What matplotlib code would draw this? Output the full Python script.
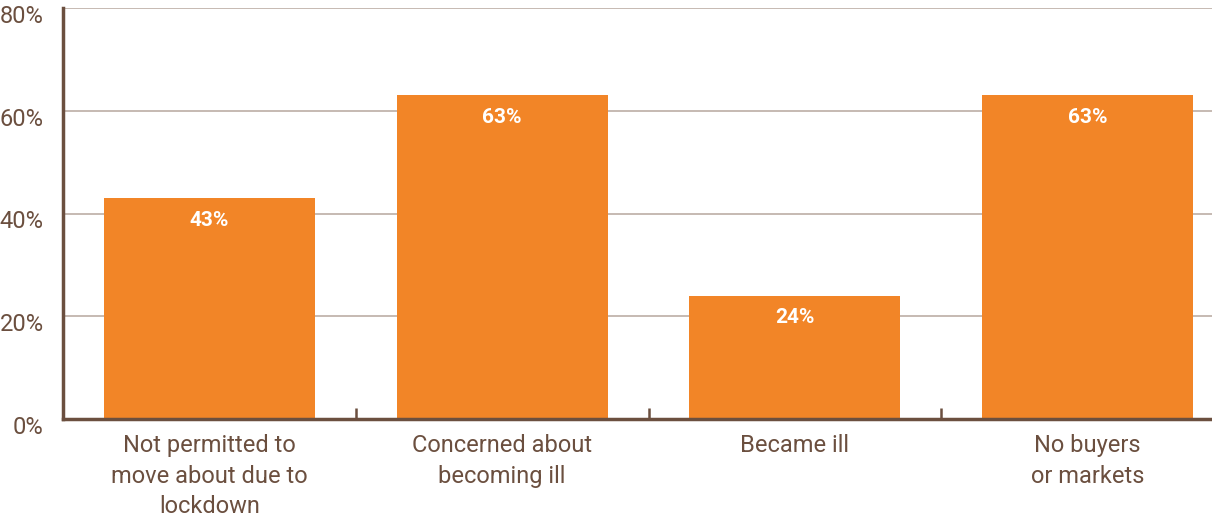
import matplotlib
matplotlib.use("Agg")
import matplotlib.pyplot as plt
import matplotlib.transforms as mtrans
from matplotlib.ticker import FixedLocator, FuncFormatter

# data
categories = ["Not permitted to\nmove about due to\nlockdown",
              "Concerned about\nbecoming ill",
              "Became ill",
              "No buyers\nor markets"]
shares = [43, 63, 24, 63]
yticks = [0, 20, 40, 60, 80]

orange = "#F28527"
brown = "#6B4F3F"
grid_col = "#C2B4AC"

plt.rcParams['font.family'] = ['Roboto', 'DejaVu Sans']

W, H = 1212, 518
fig = plt.figure(figsize=(W / 100, H / 100), dpi=100)
# axes runs a little past the right edge of the picture, as in the original
left, right, top, bottom = 63, 1234, 8, 419
ax = fig.add_axes([left / W, 1 - bottom / H, (right - left) / W, (bottom - top) / H])

x = range(len(categories))
bars = ax.bar(x, shares, width=0.72, color=orange, zorder=3)
for b, v in zip(bars, shares):
    ax.annotate("%d%%" % v, (b.get_x() + b.get_width() / 2, v),
                xytext=(0, -22), textcoords="offset pixels",
                ha="center", va="center", color="white", fontsize=15, fontweight="bold",
                zorder=4)

ax.set_xlim(-0.5, 3.5)
ax.set_ylim(0, 80)
ax.yaxis.set_major_locator(FixedLocator(yticks))
ax.yaxis.set_major_formatter(FuncFormatter(lambda v, p: "%d%%" % v))
ax.grid(axis="y", color=grid_col, linewidth=1.3, zorder=0)
ax.set_axisbelow(True)

ax.set_xticks(list(x))
ax.set_xticklabels(categories, fontsize=17, color=brown, linespacing=1.42)
ax.xaxis.set_minor_locator(FixedLocator([0.5, 1.5, 2.5]))
ax.tick_params(axis="x", which="major", length=0, pad=11)
ax.tick_params(axis="x", which="minor", direction="in", length=8, width=1.8, color=brown)
ax.tick_params(axis="y", length=0, pad=14, labelsize=17, labelcolor=brown)

# y labels sit a few pixels below their gridlines in the original
shift = mtrans.ScaledTranslation(0, -6 / 100, fig.dpi_scale_trans)
for lab in ax.get_yticklabels():
    lab.set_transform(lab.get_transform() + shift)

for s in ["top", "right"]:
    ax.spines[s].set_visible(False)
for s in ["left", "bottom"]:
    ax.spines[s].set_color(brown)
    ax.spines[s].set_linewidth(2.5)
    ax.spines[s].set_zorder(5)

fig.savefig("out.png", dpi=100)
